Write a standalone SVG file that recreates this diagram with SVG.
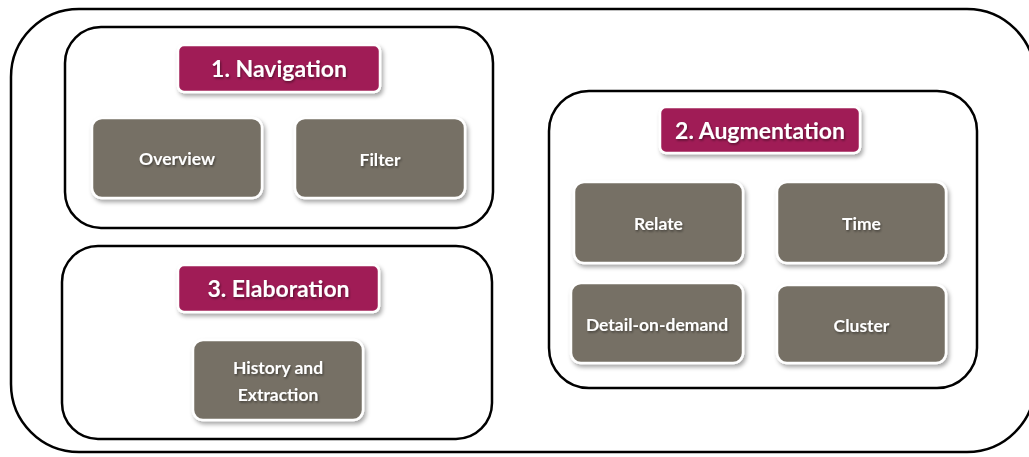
<svg xmlns="http://www.w3.org/2000/svg" width="1029" height="457" viewBox="0 0 1029 457">
  <defs>
    <filter id="shadow" x="-10%" y="-15%" width="125%" height="140%">
      <feDropShadow dx="2" dy="3" stdDeviation="2" flood-color="#000" flood-opacity="0.35"/>
    </filter>
    <filter id="txtShadow" x="-10%" y="-30%" width="120%" height="160%">
      <feDropShadow dx="1" dy="1.5" stdDeviation="1" flood-color="#000" flood-opacity="0.45"/>
    </filter>
  </defs>
  <style>
    .frame { fill: #ffffff; stroke: #000000; stroke-width: 2.5; }
    .header { fill: #a01f56; stroke: #ffffff; stroke-width: 2.5; filter: url(#shadow); }
    .node { fill: #767065; stroke: #ffffff; stroke-width: 2.5; filter: url(#shadow); }
    .htext { font-family: Lato, "Open Sans", "Liberation Sans", sans-serif; font-weight: bold; font-size: 23px; fill: #ffffff; text-anchor: middle; filter: url(#txtShadow); }
    .ntext { font-family: Lato, "Open Sans", "Liberation Sans", sans-serif; font-weight: bold; font-size: 17.5px; fill: #ffffff; text-anchor: middle; filter: url(#txtShadow); }
  </style>

  <rect width="1029" height="457" fill="#ffffff"/>

  <!-- outer frame -->
  <g id="outer">
    <rect class="frame" x="11" y="9" width="1024" height="443" rx="68" ry="68"/>
  </g>

  <!-- group frames -->
  <g id="navigation-group">
    <rect class="frame" x="65" y="27" width="428" height="201" rx="36" ry="36"/>
  </g>
  <g id="augmentation-group">
    <rect class="frame" x="549" y="91" width="428" height="297" rx="40" ry="40"/>
  </g>
  <g id="elaboration-group">
    <rect class="frame" x="62" y="246" width="430" height="193" rx="36" ry="36"/>
  </g>

  <!-- section headers -->
  <g id="navigation">
    <rect class="header" x="178" y="45" width="202" height="47" rx="6"/>
    <text class="htext" x="279" y="76.5">1. Navigation</text>
  </g>
  <g id="augmentation">
    <rect class="header" x="660" y="107" width="200" height="46" rx="6"/>
    <text class="htext" x="760" y="138.5">2. Augmentation</text>
  </g>
  <g id="elaboration">
    <rect class="header" x="178" y="265" width="201" height="47" rx="6"/>
    <text class="htext" x="278.5" y="296.5">3. Elaboration</text>
  </g>

  <!-- leaf nodes -->
  <g id="overview">
    <rect class="node" x="92" y="118" width="170" height="80" rx="10"/>
    <text class="ntext" x="177" y="165">Overview</text>
  </g>
  <g id="filter">
    <rect class="node" x="295" y="118" width="170" height="80" rx="10"/>
    <text class="ntext" x="380" y="166">Filter</text>
  </g>
  <g id="relate">
    <rect class="node" x="574" y="182" width="169" height="81" rx="10"/>
    <text class="ntext" x="658.5" y="230">Relate</text>
  </g>
  <g id="time">
    <rect class="node" x="777" y="182" width="169" height="81" rx="10"/>
    <text class="ntext" x="861.5" y="230">Time</text>
  </g>
  <g id="detail-on-demand">
    <rect class="node" x="571" y="283" width="172" height="80" rx="10"/>
    <text class="ntext" x="657" y="330.5">Detail-on-demand</text>
  </g>
  <g id="cluster">
    <rect class="node" x="777" y="285" width="169" height="78" rx="10"/>
    <text class="ntext" x="861.5" y="331.5">Cluster</text>
  </g>
  <g id="history-and-extraction">
    <rect class="node" x="193" y="340" width="170" height="80" rx="10"/>
    <text class="ntext" x="278" y="373.5">History and</text>
    <text class="ntext" x="278" y="400.5">Extraction</text>
  </g>

  <!-- no connectors in this diagram -->
  <g id="connectors"/>
</svg>
